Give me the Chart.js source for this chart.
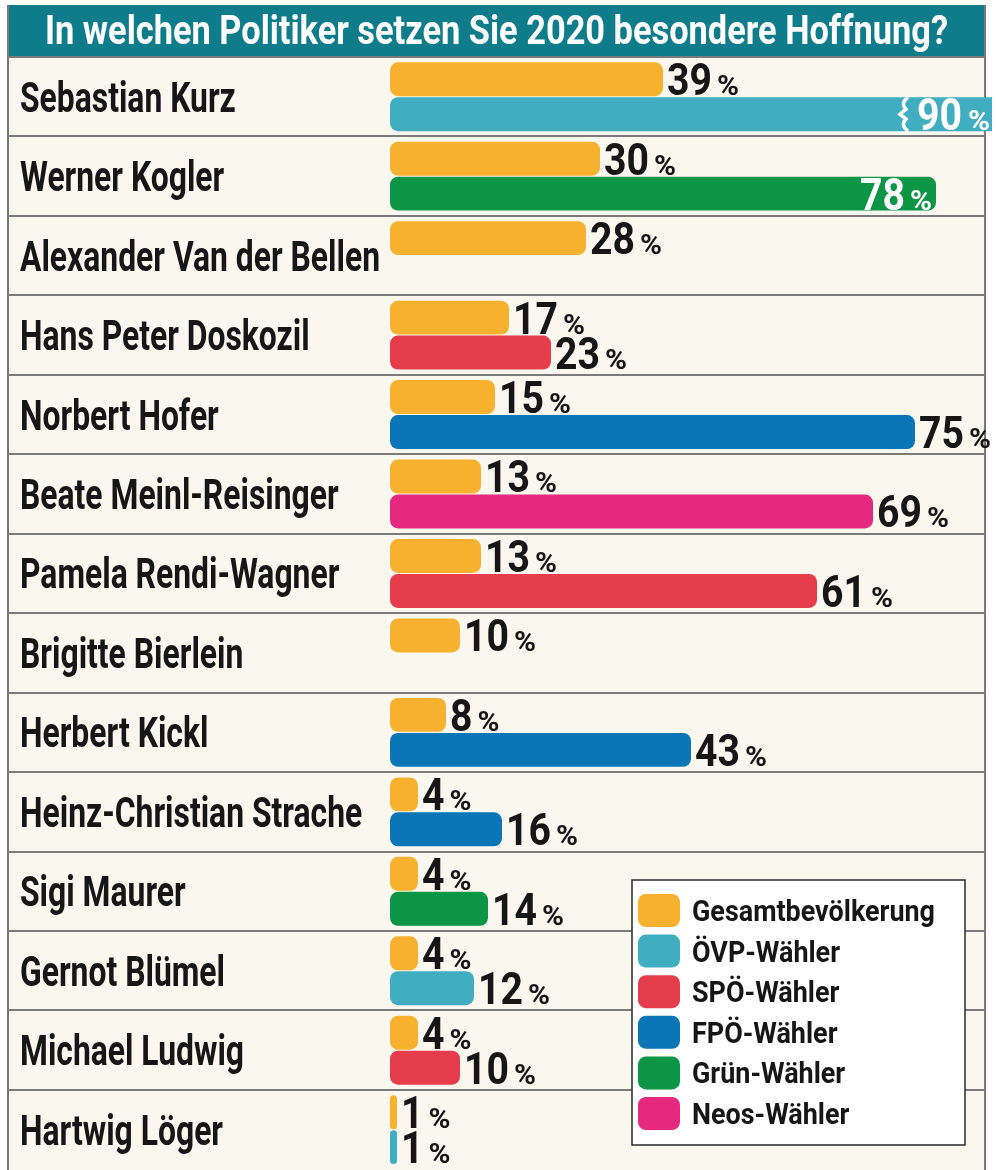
<!DOCTYPE html>
<html>
<head>
<meta charset="utf-8">
<script src="https://cdn.jsdelivr.net/npm/chart.js@4"></script>
<style>
  body { margin: 0; background: #ffffff; }
  #wrap { width: 996px; height: 1170px; }
</style>
</head>
<body>
<div id="wrap"><canvas id="hopeChart" width="996" height="1170"></canvas></div>
<script>
const names = [
  'Sebastian Kurz', 'Werner Kogler', 'Alexander Van der Bellen', 'Hans Peter Doskozil',
  'Norbert Hofer', 'Beate Meinl-Reisinger', 'Pamela Rendi-Wagner', 'Brigitte Bierlein',
  'Herbert Kickl', 'Heinz-Christian Strache', 'Sigi Maurer', 'Gernot Blümel',
  'Michael Ludwig', 'Hartwig Löger'
];
// Gesamtbevölkerung
const gesamt = [39, 30, 28, 17, 15, 13, 13, 10, 8, 4, 4, 4, 4, 1];
// Wähler der jeweiligen Partei
const waehler = [90, 78, null, 23, 75, 69, 61, null, 43, 16, 14, 12, 10, 1];
const waehlerPartei = ['ÖVP', 'Grün', null, 'SPÖ', 'FPÖ', 'Neos', 'SPÖ', null, 'FPÖ', 'FPÖ', 'Grün', 'ÖVP', 'SPÖ', 'ÖVP'];

const legendLabels = ['Gesamtbevölkerung', 'ÖVP-Wähler', 'SPÖ-Wähler', 'FPÖ-Wähler', 'Grün-Wähler', 'Neos-Wähler'];
const title = 'In welchen Politiker setzen Sie 2020 besondere Hoffnung?';

const partyColors = {
  'Gesamt': '#f7b12f',
  'ÖVP': '#40adc1',
  'SPÖ': '#e53d4c',
  'FPÖ': '#0a76b7',
  'Grün': '#0b9544',
  'Neos': '#e4297f'
};
const legendColors = ['Gesamt', 'ÖVP', 'SPÖ', 'FPÖ', 'Grün', 'Neos'].map(k => partyColors[k]);

const FONT = "'Liberation Sans Narrow', 'Roboto', 'Liberation Sans', sans-serif";

// draw condensed text: scale horizontally so the font looks like a condensed face
function condText(ctx, text, x, y, size, sx, color, align) {
  ctx.save();
  ctx.font = 'bold ' + size + 'px ' + FONT;
  ctx.fillStyle = color;
  ctx.textBaseline = 'alphabetic';
  const w = ctx.measureText(text).width * sx;
  let left = x;
  if (align === 'right') left = x - w;
  if (align === 'center') left = x - w / 2;
  ctx.translate(left, y);
  ctx.scale(sx, 1);
  ctx.textAlign = 'left';
  ctx.fillText(text, 0, 0);
  ctx.restore();
  return w;
}

function fitScale(ctx, text, size, target) {
  ctx.save();
  ctx.font = 'bold ' + size + 'px ' + FONT;
  const w = ctx.measureText(text).width;
  ctx.restore();
  return target / w;
}

const framePlugin = {
  id: 'frame',
  beforeDraw(chart) {
    const c = chart.ctx;
    c.save();
    c.fillStyle = '#faf7ee';
    c.fillRect(8, 55, 977, 1115);
    c.fillStyle = '#0f7c8c';
    c.fillRect(8, 5, 977, 51);
    c.restore();
    const sx = fitScale(c, title, 41, 903);
    condText(c, title, 496.5, 44, 41, sx, '#ffffff', 'center');
  },
  beforeDatasetsDraw(chart) {
    const c = chart.ctx;
    c.save();
    c.strokeStyle = '#7a7a7a';
    c.lineWidth = 2;
    c.beginPath();
    c.moveTo(8, 5); c.lineTo(8, 1170);
    c.moveTo(985, 5); c.lineTo(985, 1170);
    c.stroke();
    c.restore();
    // names
    const y = chart.scales.y;
    const sx = fitScale(c, 'Alexander Van der Bellen', 42, 360);
    names.forEach((n, i) => {
      condText(c, n, 20, y.getPixelForValue(i) + 15, 42, sx, '#161616', 'left');
    });
  }
};

const valuePlugin = {
  id: 'values',
  afterDatasetsDraw(chart) {
    const c = chart.ctx;
    const xs = chart.scales.x;
    const nsx = fitScale(c, '39', 45, 45);
    const psx = fitScale(c, '%', 27, 22);
    chart.data.datasets.forEach((ds, di) => {
      const meta = chart.getDatasetMeta(di);
      meta.data.forEach((bar, j) => {
        const v = ds.data[j];
        if (v === null || v === undefined) return;
        const p = bar.getProps(['x', 'y', 'height'], true);
        const base = p.y + p.height / 2 - 1;
        const num = String(v);
        c.save();
        c.font = 'bold 45px ' + FONT;
        const nw = c.measureText(num).width * nsx;
        c.font = 'bold 27px ' + FONT;
        const pw = c.measureText('%').width * psx;
        c.restore();
        const total = nw + 5 + pw;
        if (v > xs.max) {
          // broken bar: white brace mark, then white value
          const bx = 905, top = p.y - p.height / 2, bot = p.y + p.height / 2, mid = p.y;
          c.save();
          c.strokeStyle = '#ffffff';
          c.lineWidth = 3.5;
          c.beginPath();
          c.moveTo(bx + 3, top);
          c.quadraticCurveTo(bx - 5, top + 6, bx + 1, mid - 5);
          c.lineTo(bx - 5, mid);
          c.lineTo(bx + 1, mid + 5);
          c.quadraticCurveTo(bx - 5, bot - 6, bx + 3, bot);
          c.stroke();
          c.restore();
          condText(c, num, 917, base, 45, nsx, '#ffffff', 'left');
          condText(c, '%', 917 + nw + 6, base, 27, psx, '#ffffff', 'left');
        } else if (p.x + 4 + total > 995) {
          const end = p.x - 4;
          condText(c, '%', end, base, 27, psx, '#ffffff', 'right');
          condText(c, num, end - pw - 5, base, 45, nsx, '#ffffff', 'right');
        } else {
          const start = p.x + 4;
          condText(c, num, start, base, 45, nsx, '#161616', 'left');
          condText(c, '%', start + nw + 5, base, 27, psx, '#161616', 'left');
        }
      });
    });
  }
};

const legendPlugin = {
  id: 'boxLegend',
  afterDraw(chart) {
    const c = chart.ctx;
    c.save();
    c.fillStyle = '#ffffff';
    c.fillRect(632, 880, 333, 265);
    c.strokeStyle = '#2a2a2a';
    c.lineWidth = 1.5;
    c.strokeRect(632, 880, 333, 265);
    c.restore();
    const sx = fitScale(c, 'Gesamtbevölkerung', 29, 243);
    legendLabels.forEach((l, i) => {
      const top = 894 + i * 40.6;
      c.save();
      c.fillStyle = legendColors[i];
      c.beginPath();
      c.roundRect(638, top, 42, 33, 8);
      c.fill();
      c.restore();
      condText(c, l, 692, top + 27, 29, sx, '#161616', 'left');
    });
  }
};

const ctx = document.getElementById('hopeChart');

const hopeChart = new Chart(ctx, {
  type: 'bar',
  data: {
    labels: names,
    datasets: [
      {
        label: 'Gesamtbevölkerung',
        data: gesamt,
        backgroundColor: partyColors['Gesamt'],
      },
      {
        label: 'Parteiwähler',
        data: waehler,
        backgroundColor: waehlerPartei.map(p => p ? partyColors[p] : 'transparent'),
      }
    ]
  },
  options: {
    indexAxis: 'y',
    responsive: false,
    animation: false,
    layout: {
      padding: { left: 8, top: 57, right: 11, bottom: 0 }
    },
    datasets: {
      bar: {
        categoryPercentage: 0.88,
        barPercentage: 0.97,
        borderRadius: 8,
        borderSkipped: false,
        clip: { left: false, top: false, bottom: false, right: 7 }
      }
    },
    scales: {
      x: {
        display: false,
        min: 0,
        max: 85
      },
      y: {
        grid: {
          offset: true,
          // last (closing) line hidden, picture is cut there
          color: (c) => c.index === undefined ? 'rgba(0,0,0,0)' : '#7a7a7a',
          lineWidth: 2,
          drawTicks: true,
          tickLength: 382
        },
        border: { display: false },
        ticks: {
          color: 'rgba(0,0,0,0)',
          font: { size: 1 },
          autoSkip: false,
          padding: 0
        },
        afterFit: function (scale) {
          scale.width = 382;
        }
      }
    },
    plugins: {
      legend: { display: false },
      tooltip: { enabled: false }
    }
  },
  plugins: [framePlugin, valuePlugin, legendPlugin]
});
</script>
</body>
</html>
